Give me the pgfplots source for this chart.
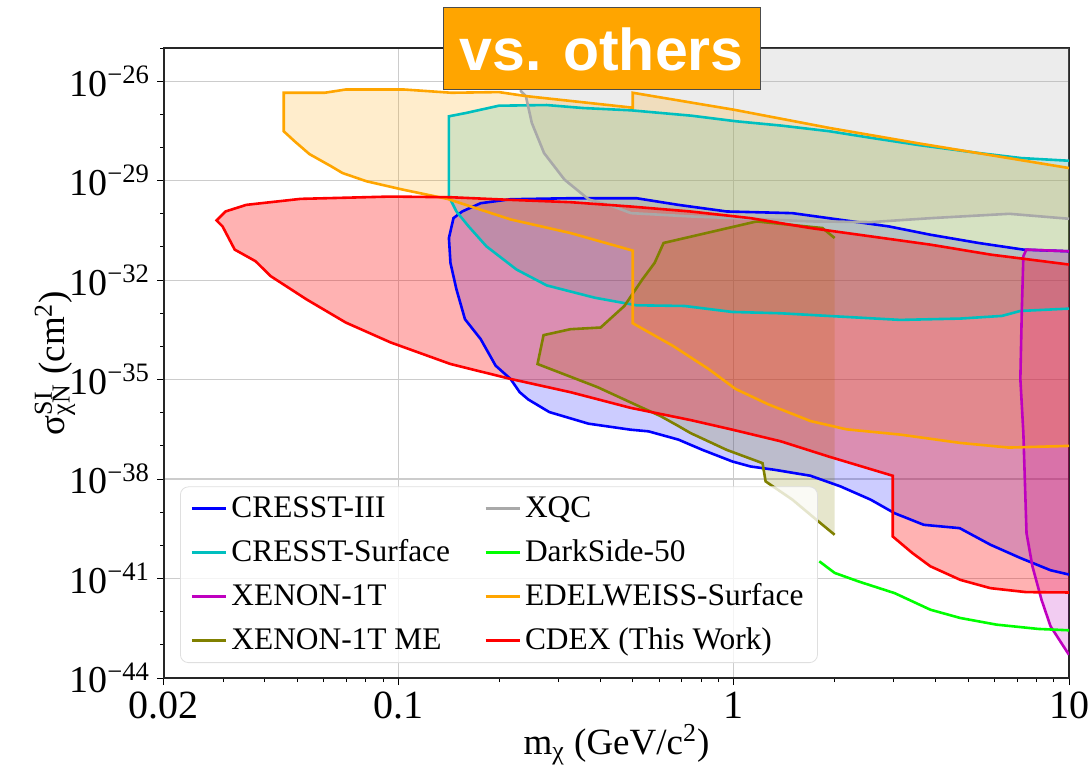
\documentclass[border=0pt]{standalone}
\usepackage{fontspec}
\setmainfont{Liberation Serif}
\newfontfamily\serifmain{Liberation Serif}
\newfontfamily\sansbold{Liberation Sans}
\usepackage{pgfplots}
\usepackage{pgfplotstable}
\pgfplotsset{compat=1.18}

\definecolor{cIII}{rgb}{0,0,1}
\definecolor{csurf}{rgb}{0,0.75,0.75}
\definecolor{xen}{rgb}{0.75,0,0.75}
\definecolor{olivec}{rgb}{0.5,0.5,0}
\definecolor{xqc}{HTML}{A9A9A9}
\definecolor{ds}{rgb}{0,1,0}
\definecolor{edel}{HTML}{FFA500}
\definecolor{cdex}{rgb}{1,0,0}

\pgfplotstableread{
x y
10 1e-37
6.61 8.91e-38
4.74 1.23e-37
3.14 2.19e-37
2.17 3.16e-37
1.694 5.62e-37
1.27 1.78e-36
1.012 5.25e-36
0.841 2.09e-35
0.658 1.047e-34
0.5 5.01e-34
0.5 7.76e-32
0.326 2.63e-31
0.216 6.76e-31
0.140 2.82e-30
0.103 5.37e-30
0.0804 9.55e-30
0.0681 1.70e-29
0.0631 2.69e-29
0.0543 6.31e-29
0.0490 1.55e-28
0.0455 3.09e-28
0.0455 4.47e-27
0.0603 4.47e-27
0.0698 5.62e-27
0.1035 5.62e-27
0.1439 4.47e-27
0.1995 4.68e-27
0.240 3.55e-27
0.5 1.585e-27
0.5 4.47e-27
1.0 1.38e-27
1.928 3.89e-28
3.58 1.32e-28
10 2.40e-29
}\edel

\pgfplotstableread{
x y
10 1.38e-33
7.16 1.175e-33
6.31 8.32e-34
4.74 6.92e-34
3.14 6.31e-34
2.08 7.94e-34
1.38 1e-33
0.991 1.096e-33
0.713 1.66e-33
0.513 1.74e-33
0.385 2.95e-33
0.277 6.92e-33
0.225 2.09e-32
0.183 1.047e-31
0.162 4.17e-31
0.149 1.175e-30
0.1415 3.31e-30
0.1415 8.71e-28
0.159 1.096e-27
0.1995 1.82e-27
0.277 1.905e-27
0.355 1.55e-27
0.494 1.32e-27
0.746 9.12e-28
1.016 6.17e-28
1.387 4.57e-28
1.928 3.09e-28
2.57 1.95e-28
3.58 1.175e-28
5.41 6.76e-29
7.21 4.79e-29
10 3.98e-29
}\csurf

\pgfplotstableread{
x y
10 1.32e-41
8.81 1.78e-41
7.16 4.17e-41
5.83 1.047e-40
4.72 3.31e-40
3.69 4.17e-40
3.02 9.33e-40
2.56 2.40e-39
2.08 6.03e-39
1.694 1.259e-38
1.324 1.905e-38
1.122 2.40e-38
0.991 3.39e-38
0.807 7.59e-38
0.684 1.55e-37
0.557 2.75e-37
0.492 3.09e-37
0.454 3.47e-37
0.369 4.68e-37
0.282 1.047e-36
0.244 2.51e-36
0.230 4.17e-36
0.216 1.047e-35
0.195 2.63e-35
0.176 1.66e-34
0.158 6.61e-34
0.149 5.25e-33
0.143 3.31e-32
0.1415 1.86e-31
0.146 7.41e-31
0.155 1.175e-30
0.176 2.09e-30
0.216 2.75e-30
0.326 2.95e-30
0.513 2.95e-30
0.684 1.86e-30
0.953 1.175e-30
1.496 1.047e-30
2.08 6.61e-31
2.90 4.17e-31
3.86 2.34e-31
5.37 1.32e-31
7.31 8.32e-32
10 7.41e-32
}\cIII

\pgfplotstableread{
x y
10 7.41e-32
7.46 8.32e-32
7.31 5.25e-32
7.23 1.047e-33
7.16 1.047e-35
7.31 2.45e-37
7.47 2.34e-40
7.78 2.34e-41
8.28 2.29e-42
8.81 3.63e-43
10 5.01e-44
}\xenon

\pgfplotstableread{
x y
2.0 1.86e-31
1.84 3.72e-31
1.17 5.89e-31
0.618 1.32e-31
0.581 3.31e-32
0.534 1.047e-32
0.472 1.66e-33
0.401 3.72e-34
0.326 3.31e-34
0.271 2.19e-34
0.260 2.95e-35
0.393 5.89e-36
0.534 1.41e-36
0.605 7.94e-37
0.684 3.98e-37
0.743 2.45e-37
0.953 7.59e-38
1.219 3.02e-38
1.245 8.51e-39
1.496 2.40e-39
1.766 5.89e-40
2.0 2.09e-40
}\xenonme

\pgfplotstableread{
x y
0.225 1e-25
0.232 5.0e-27
0.240 3.55e-27
0.250 5.50e-28
0.272 6.76e-29
0.313 1.07e-29
0.370 2.69e-30
0.437 1.66e-30
0.494 1.047e-30
0.746 8.32e-31
1.127 7.08e-31
1.70 5.89e-31
2.57 5.62e-31
3.89 7.41e-31
6.64 1.0e-30
10 7.08e-31
}\xqc

\pgfplotstableread{
x y
0.225 1e-25
0.232 5.0e-27
0.240 3.55e-27
0.250 5.50e-28
0.272 6.76e-29
0.313 1.07e-29
0.370 2.69e-30
0.437 1.66e-30
0.494 1.047e-30
0.746 8.32e-31
1.127 7.08e-31
1.70 5.89e-31
2.57 5.62e-31
3.89 7.41e-31
6.64 1.0e-30
10 7.08e-31
10 1e-25
}\xqcfill

\pgfplotstableread{
x y
1.8 3.31e-41
2.0 1.48e-41
2.36 8.13e-42
3.02 3.63e-42
3.86 1.15e-42
4.74 6.46e-43
6.08 4.07e-43
8.11 3.02e-43
10 2.75e-43
}\darkside

\pgfplotstableread{
x y
10 3.80e-42
7.46 3.89e-42
5.83 5.13e-42
4.74 9.12e-42
3.86 2.34e-41
3.41 5.89e-41
2.98 1.86e-40
2.98 1.259e-38
1.919 4.79e-38
1.38 1.38e-37
0.991 3.09e-37
0.743 6.03e-37
0.492 1.41e-36
0.326 4.17e-36
0.216 1.047e-35
0.143 2.95e-35
0.0948 1.32e-34
0.0697 5.25e-34
0.0532 2.63e-33
0.0416 1.32e-32
0.0375 3.72e-32
0.0325 8.32e-32
0.0299 4.17e-31
0.0287 6.31e-31
0.0305 1.175e-30
0.0352 1.86e-30
0.0511 2.82e-30
0.0948 3.31e-30
0.143 3.16e-30
0.216 2.63e-30
0.326 2.24e-30
0.492 1.66e-30
0.743 1.175e-30
1.122 7.41e-31
1.694 3.72e-31
2.56 2.09e-31
3.86 1.175e-31
5.83 5.89e-32
10 2.95e-32
}\cdex

\begin{document}
\begin{tikzpicture}
\useasboundingbox (-82pt,-46pt) rectangle (463pt,339pt);
\begin{axis}[
  xmode=log, ymode=log,
  scale only axis, width=452.5pt, height=315pt,
  xmin=0.02, xmax=10, ymin=1e-44, ymax=1e-25,
  xtick={0.02,0.1,1,10},
  xticklabels={0.02,0.1,1,10},
  minor xtick={0.03,0.04,0.05,0.06,0.07,0.08,0.09,0.2,0.3,0.4,0.5,0.6,0.7,0.8,0.9,2,3,4,5,6,7,8,9},
  ytick={1e-44,1e-41,1e-38,1e-35,1e-32,1e-29,1e-26},
  yticklabels={10\textsuperscript{−44},10\textsuperscript{−41},10\textsuperscript{−38},10\textsuperscript{−35},10\textsuperscript{−32},10\textsuperscript{−29},10\textsuperscript{−26}},
  minor ytick={1e-43,1e-42,1e-40,1e-39,1e-37,1e-36,1e-34,1e-33,1e-31,1e-30,1e-28,1e-27,1e-25},
  tick align=outside, xtick pos=bottom, ytick pos=left,
  major tick length=3.5pt, minor tick length=2pt,
  every tick/.style={black, line width=0.5pt},
  grid=major, major grid style={gray!40, line width=0.6pt},
  axis line style={line width=0.6pt, black!85},
  xticklabel style={font=\serifmain\fontsize{20}{20}\selectfont},
  yticklabel style={font=\serifmain\fontsize{19}{19}\selectfont},
  xlabel={m\textsubscript{χ} (GeV/c\textsuperscript{2})},
  ylabel={σ\rlap{\textsuperscript{SI}}\textsubscript{χN} (cm\textsuperscript{2})},
  label style={font=\serifmain\fontsize{18.5}{20}\selectfont},
  xlabel style={at={(axis description cs:0.5,-0.106)}, anchor=center},
  ylabel style={at={(axis description cs:-0.1204,0.5)}, anchor=center},
  legend columns=2,
  legend cell align=left,
  legend image code/.code={\draw[#1, line width=1.5pt] (0pt,0pt) -- (17pt,0pt);},
  legend style={at={(axis description cs:0.0177,0.0238)}, anchor=south west,
    draw=gray!25, rounded corners=4pt, fill=white, fill opacity=0.8, text opacity=1,
    font=\serifmain\fontsize{15.7}{18}\selectfont, inner xsep=5pt, inner ysep=3pt,
    row sep=5.5pt, /tikz/every even column/.append style={column sep=15pt}},
]
% fills
\addplot[forget plot, draw=none, fill=cIII, fill opacity=0.2] table {\cIII} -- cycle;
\addplot[forget plot, draw=none, fill=csurf, fill opacity=0.2] table {\csurf} -- cycle;
\addplot[forget plot, draw=none, fill=xen, fill opacity=0.2] table {\xenon} -- cycle;
\addplot[forget plot, draw=none, fill=olivec, fill opacity=0.2] table {\xenonme} -- cycle;
\addplot[forget plot, draw=none, fill=xqc, fill opacity=0.22] table {\xqcfill} -- cycle;
\addplot[forget plot, draw=none, fill=edel, fill opacity=0.2] table {\edel} -- cycle;
\addplot[forget plot, draw=none, fill=cdex, fill opacity=0.3] table {\cdex} -- cycle;
% lines
\addplot[forget plot, cIII, line width=1.3pt] table {\cIII};
\addplot[forget plot, csurf, line width=1.3pt] table {\csurf};
\addplot[forget plot, xen, line width=1.3pt] table {\xenon};
\addplot[forget plot, olivec, line width=1.3pt] table {\xenonme};
\addplot[forget plot, xqc, line width=1.3pt] table {\xqc};
\addplot[forget plot, ds, line width=1.3pt] table {\darkside};
\addplot[forget plot, edel, line width=1.3pt] table {\edel};
\addplot[forget plot, cdex, line width=1.3pt] table {\cdex};
% legend
\addlegendimage{cIII}\addlegendentry{CRESST-III}
\addlegendimage{xqc}\addlegendentry{XQC}
\addlegendimage{csurf}\addlegendentry{CRESST-Surface}
\addlegendimage{ds}\addlegendentry{DarkSide-50}
\addlegendimage{xen}\addlegendentry{XENON-1T}
\addlegendimage{edel}\addlegendentry{EDELWEISS-Surface}
\addlegendimage{olivec}\addlegendentry{XENON-1T ME}
\addlegendimage{cdex}\addlegendentry{CDEX (This Work)}
\end{axis}
\node[fill=edel, draw=black!70, line width=0.5pt, minimum width=158.5pt, minimum height=41pt,
  inner sep=0pt, text=white, font=\sansbold\bfseries\fontsize{29.5}{30}\selectfont]
  at (218.75pt,314.5pt) {vs. others};
\end{tikzpicture}
\end{document}
